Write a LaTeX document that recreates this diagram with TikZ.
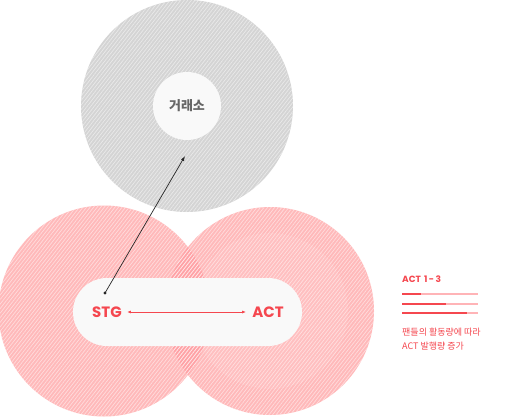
\documentclass[tikz,border=0pt]{standalone}
\usepackage{fontspec}
\setmainfont{Poppins}
\newfontfamily\kr{Noto Sans CJK KR}
\usetikzlibrary{patterns.meta,arrows.meta}
\definecolor{accent}{HTML}{F5474F}
\definecolor{redbase}{HTML}{FFB9BA}
\definecolor{reddeep}{HTML}{FFA2A6}
\definecolor{redinner}{HTML}{FFBFC0}
\definecolor{graybase}{HTML}{D4D4D4}
\definecolor{paper}{HTML}{F9F9F9}
\definecolor{barlight}{HTML}{FFB4B7}
\definecolor{txtgray}{HTML}{666666}
\tikzset{
  hatch/.style={pattern={Lines[angle=52,distance=2.8pt,line width=0.7pt]},pattern color=white,opacity=#1},
  hatch/.default=0.45,
  labelred/.style={font=\bfseries\fontsize{15}{15}\selectfont,text=accent,inner sep=0pt},
  bar/.style={line width=2pt},
  note/.style={font=\kr\fontsize{9}{9}\selectfont,text=accent,inner sep=0pt,anchor=west}
}
\begin{document}
\begin{tikzpicture}[x=1pt,y=-1pt]
\useasboundingbox (0,0) rectangle (508,418);
\fill[white] (0,0) rectangle (508,418);
% gray circle
\node[circle,minimum size=212pt,fill=graybase,inner sep=0pt] (grayc) at (187,106) {};
\fill[hatch=0.5] (187,106) circle[radius=106pt];
% red circles
\fill[redbase] (104,311) circle[radius=105.5pt];
\fill[redbase] (270,311) circle[radius=104pt];
\fill[redinner] (270,311) circle[radius=78pt];
\begin{scope}
  \clip (104,311) circle[radius=105.5pt];
  \fill[reddeep] (270,311) circle[radius=104pt];
\end{scope}
\fill[hatch=0.5] (104,311) circle[radius=105.5pt];
\fill[hatch=0.5] (270,311) circle[radius=104pt];
\node[circle,minimum size=104pt,draw=none] (leftc) at (104,311) {};
\node[circle,minimum size=104pt,draw=none] (rightc) at (270,311) {};
% exchange inner circle
\node[circle,minimum size=68pt,fill=paper,inner sep=0pt,text=txtgray,font=\kr\bfseries\fontsize{13}{13}\selectfont] (exch) at (187,106) {거래소};
% pill
\node[rounded corners=34pt,fill=paper,minimum width=229pt,minimum height=68pt,inner sep=0pt] (pill) at (187.5,312) {};
\node[labelred] (stg) at (107,312) {STG};
\node[labelred] (act) at (268,312) {ACT};
\draw[accent,line width=0.8pt,{Latex[length=4pt,width=3pt]}-{Latex[length=4pt,width=3pt]},shorten <=5pt,shorten >=6pt] (stg) -- (act);
% black arrow
\coordinate (dotp) at (105,293);
\coordinate (tipp) at (185,156);
\fill[black!85] (dotp) circle[radius=1.7pt];
\draw[black!85,line width=0.7pt,-{Latex[length=5pt,width=3.5pt]}] (dotp) -- (tipp);
% right legend
\node[font=\bfseries\fontsize{9}{9}\selectfont,text=accent,inner sep=0pt,anchor=west] (acttitle) at (402,279) {ACT\,\,1\,-\,3};
\coordinate (b1s) at (402,294); \coordinate (b1e) at (478,294); \coordinate (b1m) at (421,294);
\coordinate (b2s) at (402,303.5); \coordinate (b2e) at (478,303.5); \coordinate (b2m) at (446,303.5);
\coordinate (b3s) at (402,313); \coordinate (b3e) at (478,313); \coordinate (b3m) at (467,313);
\draw[bar,barlight] (b1s) -- (b1e);
\draw[bar,barlight] (b2s) -- (b2e);
\draw[bar,barlight] (b3s) -- (b3e);
\draw[bar,accent] (b1s) -- (b1m);
\draw[bar,accent] (b2s) -- (b2m);
\draw[bar,accent] (b3s) -- (b3m);
\node[note] (n1) at (402,332) {팬들의 활동량에 따라};
\node[note] (n2) at (402,346) {ACT 발행량 증가};
\end{tikzpicture}
\end{document}
